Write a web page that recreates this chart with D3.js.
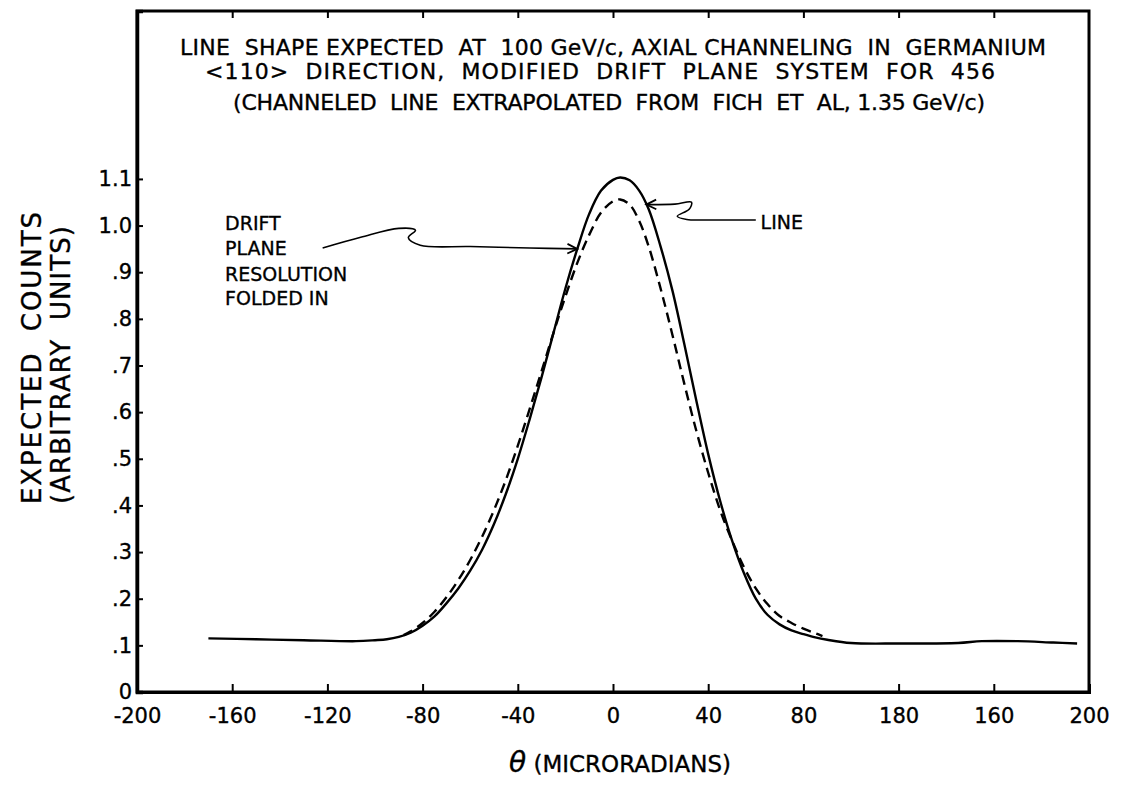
<!DOCTYPE html>
<html>
<head>
<meta charset="utf-8">
<script src="https://cdn.jsdelivr.net/npm/d3@7"></script>
<style>
  body { margin: 0; background: #fff; }
  text { font-family: "DejaVu Sans", "Liberation Sans", sans-serif; fill: #000; stroke: #000; stroke-width: 0.35px; }
</style>
</head>
<body>
<div id="chart"></div>
<script>
// ---------Data----------

// solid curve: "LINE"
const lineTheta = [-170, -150, -130, -108, -100, -95, -90, -85, -80, -75, -70, -65, -60, -55, -50, -45, -40, -35, -30, -25, -20, -15, -10, -5, 0, 3, 7, 11, 15, 20, 25, 30, 35, 40, 45, 50, 55, 60, 65, 70, 75, 80, 85, 90, 100, 120, 145, 155, 170, 185, 195];
const lineCounts = [0.115, 0.113, 0.111, 0.109, 0.111, 0.113, 0.118, 0.127, 0.142, 0.162, 0.19, 0.222, 0.26, 0.305, 0.36, 0.425, 0.5, 0.585, 0.675, 0.77, 0.865, 0.95, 1.025, 1.075, 1.098, 1.103, 1.097, 1.075, 1.035, 0.955, 0.86, 0.745, 0.625, 0.51, 0.41, 0.325, 0.255, 0.2, 0.165, 0.145, 0.132, 0.124, 0.117, 0.112, 0.105, 0.104, 0.105, 0.109, 0.109, 0.106, 0.104];

// dashed curve: drift plane resolution folded in
const foldedTheta = [-88, -85, -80, -75, -70, -65, -60, -55, -50, -45, -40, -35, -30, -25, -20, -15, -10, -5, 0, 3, 7, 11, 15, 20, 25, 30, 35, 40, 45, 50, 55, 60, 65, 70, 75, 80, 85, 88];
const foldedCounts = [0.122, 0.13, 0.148, 0.172, 0.203, 0.24, 0.283, 0.333, 0.39, 0.455, 0.528, 0.607, 0.688, 0.77, 0.848, 0.92, 0.98, 1.028, 1.052, 1.056, 1.045, 1.01, 0.955, 0.865, 0.765, 0.66, 0.56, 0.47, 0.39, 0.325, 0.268, 0.222, 0.188, 0.163, 0.148, 0.136, 0.126, 0.12];

// axis ticks (labels as lettered on the original, "180" included)
const xTickValues = [-200, -160, -120, -80, -40, 0, 40, 80, 120, 160, 200];
const xTickLabels = ["-200", "-160", "-120", "-80", "-40", "0", "40", "80", "180", "160", "200"];
const yTickValues = [0, 0.1, 0.2, 0.3, 0.4, 0.5, 0.6, 0.7, 0.8, 0.9, 1.0, 1.1];
const yTickLabels = ["0", ".1", ".2", ".3", ".4", ".5", ".6", ".7", ".8", ".9", "1.0", "1.1"];

const titleLines = [
  "LINE  SHAPE EXPECTED  AT  100 GeV/c, AXIAL CHANNELING  IN  GERMANIUM",
  "<110>  DIRECTION,  MODIFIED  DRIFT  PLANE  SYSTEM  FOR  456",
  "(CHANNELED  LINE  EXTRAPOLATED  FROM  FICH  ET  AL, 1.35 GeV/c)"
];
const driftLabel = ["DRIFT", "PLANE", "RESOLUTION", "FOLDED IN"];

// ---------Chart----------

const width = 1123;
const height = 785;
const margin = { top: 11, right: 34, bottom: 93, left: 137 };

const svg = d3.select("#chart")
  .append("svg")
  .attr("width", width)
  .attr("height", height);

const x = d3.scaleLinear()
  .domain([-200, 200])
  .range([margin.left, width - margin.right]);

const y = d3.scaleLinear()
  .domain([0, 1.46])
  .range([height - margin.bottom, margin.top]);

// frame
svg.append("rect")
  .attr("x", x(-200))
  .attr("y", y(1.46))
  .attr("width", x(200) - x(-200))
  .attr("height", y(0) - y(1.46))
  .attr("fill", "none")
  .attr("stroke", "#000")
  .attr("stroke-width", 3);

// bottom axis, ticks point up into the plot
const xAxis = svg.append("g")
  .attr("transform", `translate(0, ${y(0)})`)
  .call(d3.axisBottom(x)
    .tickValues(xTickValues)
    .tickFormat((d, i) => xTickLabels[i])
    .tickSize(-8)
    .tickPadding(16));
xAxis.select(".domain").attr("stroke-width", 3);
xAxis.selectAll(".tick line").attr("stroke-width", 2);
xAxis.selectAll("text").style("font-size", "21px");

// top ticks
svg.append("g")
  .attr("transform", `translate(0, ${y(1.46)})`)
  .call(d3.axisTop(x)
    .tickValues(xTickValues.slice(1, -1))
    .tickFormat("")
    .tickSize(-7))
  .call(g => g.select(".domain").remove())
  .selectAll(".tick line").attr("stroke-width", 2);

// left axis, ticks point right
const yAxis = svg.append("g")
  .attr("transform", `translate(${x(-200)}, 0)`)
  .call(d3.axisLeft(y)
    .tickValues(yTickValues)
    .tickFormat((d, i) => yTickLabels[i])
    .tickSize(-6)
    .tickPadding(5));
yAxis.select(".domain").attr("stroke-width", 3.5);
yAxis.selectAll(".tick line").attr("stroke-width", 2);
yAxis.selectAll("text").style("font-size", "21px");

// curves
const line = d3.line()
  .x(d => x(d[0]))
  .y(d => y(d[1]))
  .curve(d3.curveCatmullRom.alpha(0.5));

svg.append("path")
  .datum(d3.zip(lineTheta, lineCounts))
  .attr("d", line)
  .attr("fill", "none")
  .attr("stroke", "#000")
  .attr("stroke-width", 2.4);

svg.append("path")
  .datum(d3.zip(foldedTheta, foldedCounts))
  .attr("d", line)
  .attr("fill", "none")
  .attr("stroke", "#000")
  .attr("stroke-width", 2.4)
  .attr("stroke-dasharray", "10,6");

// title
svg.selectAll(".title")
  .data(titleLines)
  .enter()
  .append("text")
  .attr("class", "title")
  .attr("x", (d, i) => [180, 205, 233][i])
  .attr("y", (d, i) => [55, 79, 110][i])
  .attr("textLength", (d, i) => [866, 790, 752][i])
  .attr("lengthAdjust", "spacing")
  .style("white-space", "pre")
  .style("font-size", "22px")
  .text(d => d);

// axis titles
svg.append("text")
  .attr("transform", `translate(41, ${(212 + 504) / 2}) rotate(-90)`)
  .attr("text-anchor", "middle")
  .attr("textLength", 292)
  .attr("lengthAdjust", "spacing")
  .style("white-space", "pre")
  .style("font-size", "26px")
  .text("EXPECTED  COUNTS");

svg.append("text")
  .attr("transform", `translate(70, ${(226 + 504) / 2}) rotate(-90)`)
  .attr("text-anchor", "middle")
  .attr("textLength", 278)
  .attr("lengthAdjust", "spacing")
  .style("white-space", "pre")
  .style("font-size", "26px")
  .text("(ARBITRARY  UNITS)");

const xTitle = svg.append("text")
  .attr("x", 620)
  .attr("y", 772)
  .attr("text-anchor", "middle")
  .style("font-size", "23px");
xTitle.append("tspan")
  .style("font-style", "italic")
  .style("font-size", "28px")
  .text("θ");
xTitle.append("tspan").text(" (MICRORADIANS)");

// annotation: DRIFT PLANE RESOLUTION FOLDED IN
svg.selectAll(".drift")
  .data(driftLabel)
  .enter()
  .append("text")
  .attr("class", "drift")
  .attr("x", x(-163))
  .attr("y", (d, i) => y([1.005, 0.952, 0.896, 0.845][i]) + 7)
  .style("font-size", "19px")
  .text(d => d);

const pointer = d3.line()
  .x(d => x(d[0]))
  .y(d => y(d[1]))
  .curve(d3.curveCatmullRom.alpha(0.5));

function arrowHead(tip, from) {
  const tx = x(tip[0]), ty = y(tip[1]);
  const a = Math.atan2(ty - y(from[1]), tx - x(from[0]));
  const len = 11, spread = 0.45;
  return `M${tx - len * Math.cos(a - spread)},${ty - len * Math.sin(a - spread)}L${tx},${ty}L${tx - len * Math.cos(a + spread)},${ty - len * Math.sin(a + spread)}`;
}

const driftPath = [[-122, 0.952], [-106, 0.975], [-90, 0.994], [-83, 0.99], [-86, 0.974], [-81, 0.958], [-60, 0.955], [-35, 0.952], [-15, 0.95]];
svg.append("path")
  .attr("d", pointer(driftPath))
  .attr("fill", "none")
  .attr("stroke", "#000")
  .attr("stroke-width", 1.6);
svg.append("path")
  .attr("d", arrowHead(driftPath[driftPath.length - 1], driftPath[driftPath.length - 2]))
  .attr("fill", "none")
  .attr("stroke", "#000")
  .attr("stroke-width", 1.8);

// annotation: LINE
const linePath = [[14, 1.045], [26, 1.046], [33, 1.05], [32, 1.035], [27, 1.02], [31, 1.013], [40, 1.012], [60, 1.012]];
svg.append("path")
  .attr("d", pointer(linePath))
  .attr("fill", "none")
  .attr("stroke", "#000")
  .attr("stroke-width", 1.6);
svg.append("path")
  .attr("d", arrowHead(linePath[0], linePath[1]))
  .attr("fill", "none")
  .attr("stroke", "#000")
  .attr("stroke-width", 1.8);

svg.append("text")
  .attr("x", x(62))
  .attr("y", y(1.008) + 7)
  .style("font-size", "19px")
  .text("LINE");
</script>
</body>
</html>
